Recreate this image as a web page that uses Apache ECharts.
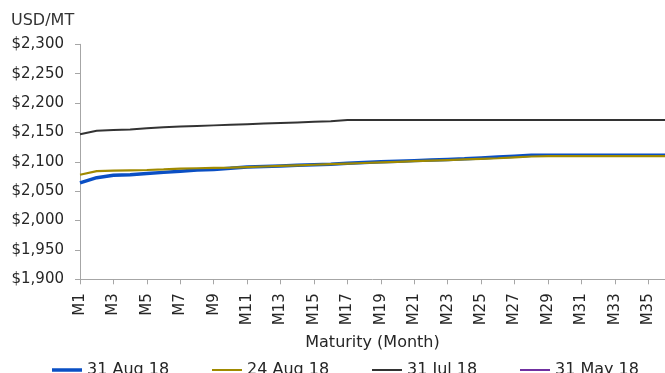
<!DOCTYPE html>
<html>
<head>
<meta charset="utf-8">
<script src="https://cdn.jsdelivr.net/npm/echarts@6/dist/echarts.min.js"></script>
<style>
html,body{margin:0;padding:0;background:#fff;}
#chart{width:665px;height:373px;}
</style>
</head>
<body>
<div id="chart"></div>
<script>
var categories = [];
for (var i = 1; i <= 36; i++) categories.push('M' + i);

var seriesNames = ['31 Aug 18', '24 Aug 18', '31 Jul 18', '31 May 18'];

var aug31 = [2064, 2073, 2077, 2078, 2080, 2082, 2084, 2086, 2087, 2089, 2091, 2092,
             2093, 2094, 2095, 2096, 2097.5, 2099, 2100, 2101, 2102, 2103, 2104, 2105,
             2106.5, 2108, 2109.5, 2111, 2111, 2111, 2111, 2111, 2111, 2111, 2111, 2111];
var aug24 = [2078, 2084, 2085, 2085.5, 2086, 2087, 2088.5, 2089, 2089.5, 2090, 2091, 2092,
             2093, 2094, 2095, 2096, 2097, 2098, 2099, 2100, 2101, 2102, 2103, 2104,
             2105, 2106, 2107.5, 2109, 2109.5, 2109.5, 2109.5, 2109.5, 2109.5, 2109.5, 2109.5, 2109.5];
var jul31 = [2147, 2153, 2154, 2155, 2157, 2159, 2160, 2161, 2162, 2163, 2164, 2165,
             2166, 2167, 2168, 2169, 2171, 2171, 2171, 2171, 2171, 2171, 2171, 2171,
             2171, 2171, 2171, 2171, 2171, 2171, 2171, 2171, 2171, 2171, 2171, 2171];
var may31 = [];

var yMin = 1900, yMax = 2300, yStep = 50;

var colors = ['#0A4FC4', '#A08A00', '#333333', '#7030A0'];
var widths = [3.5, 2.2, 2, 2];
var legendIcons = ['path://M0,0H30V3.5H0Z', 'path://M0,0H30V2H0Z', 'path://M0,0H30V2H0Z', 'path://M0,0H30V2H0Z'];
var legendLeft = [52, 212, 372, 520];
var FONT = 'DejaVu Sans';

var chart = echarts.init(document.getElementById('chart'), null, {renderer: 'canvas'});

var dataSets = [aug31, aug24, jul31, may31];
var series = seriesNames.map(function (n, i) {
  return {
    name: n, type: 'line', data: dataSets[i], symbol: 'none', smooth: false,
    lineStyle: {color: colors[i], width: widths[i]},
    itemStyle: {color: colors[i]},
    animation: false
  };
});

var legends = seriesNames.map(function (n, i) {
  return {
    data: [n], icon: legendIcons[i], symbolKeepAspect: true,
    left: legendLeft[i], top: 362, padding: 0,
    itemWidth: 30, itemHeight: 16, itemGap: 5,
    itemStyle: {color: colors[i], borderWidth: 0, opacity: 1},
    textStyle: {fontFamily: FONT, fontSize: 16, color: '#262626'}
  };
});

chart.setOption({
  animation: false,
  title: {
    text: 'USD/MT', left: 11, top: 13, padding: 0,
    textStyle: {fontFamily: FONT, fontSize: 16, fontWeight: 'normal', color: '#333'}
  },
  legend: legends,
  grid: {left: 80, top: 44.3, width: 589, height: 235, containLabel: false},
  xAxis: {
    type: 'category', data: categories, boundaryGap: false,
    name: 'Maturity (Month)', nameLocation: 'middle', nameGap: 56,
    nameTextStyle: {fontFamily: FONT, fontSize: 16, color: '#262626'},
    axisLine: {lineStyle: {color: '#A6A6A6', width: 1}},
    axisTick: {show: true, interval: 1, length: 5, lineStyle: {color: '#A6A6A6'}},
    axisLabel: {interval: 1, rotate: 90, margin: 14, fontFamily: FONT, fontSize: 15, color: '#262626'},
    splitLine: {show: false}
  },
  yAxis: {
    type: 'value', min: yMin, max: yMax, interval: yStep,
    axisLine: {show: true, lineStyle: {color: '#A6A6A6', width: 1}},
    axisTick: {show: true, length: 5, lineStyle: {color: '#A6A6A6'}},
    axisLabel: {
      margin: 16, fontFamily: FONT, fontSize: 15, color: '#262626',
      formatter: function (v) { return '$' + v.toLocaleString('en-US'); }
    },
    splitLine: {show: false}
  },
  series: series
});
</script>
</body>
</html>
